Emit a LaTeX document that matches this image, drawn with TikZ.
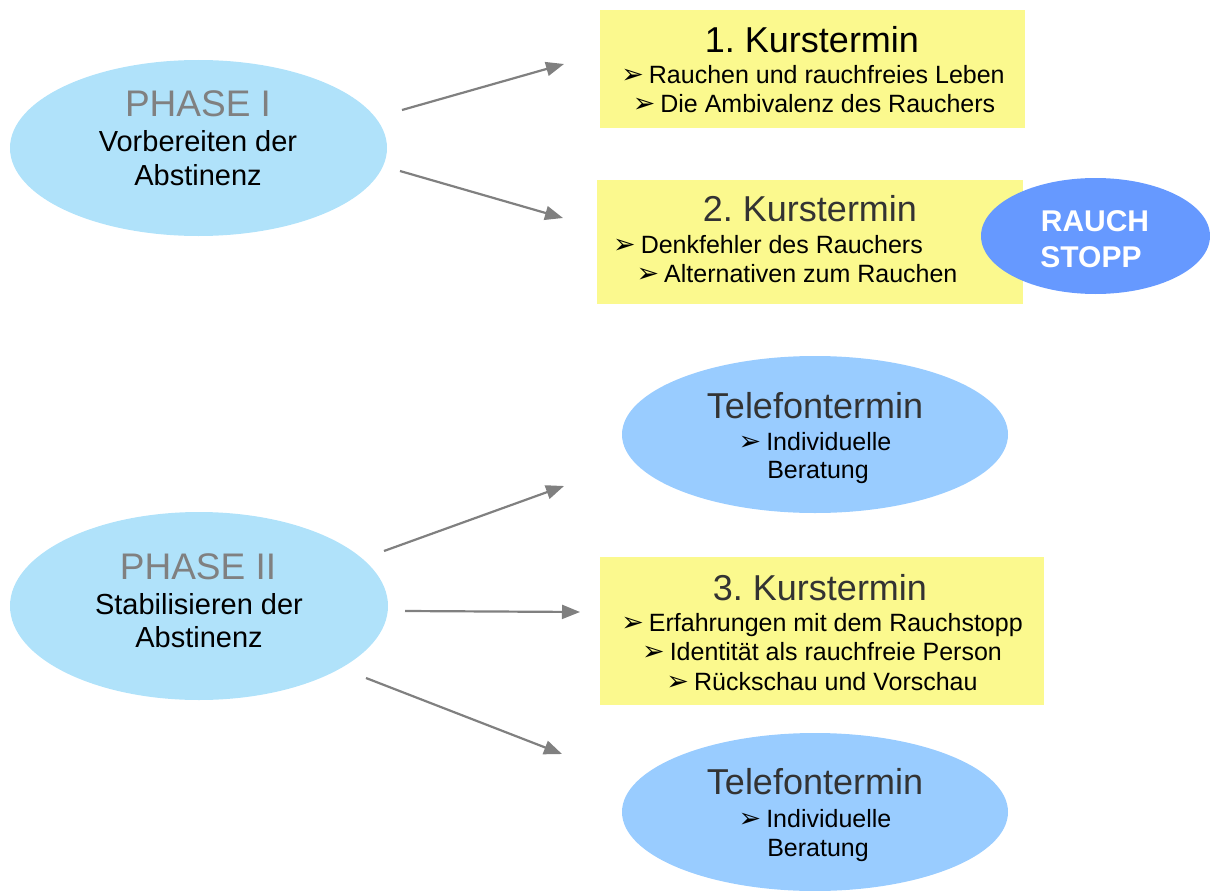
\documentclass[tikz,border=0pt]{standalone}
\usepackage{fontspec}
\setmainfont{Liberation Sans}
\newfontfamily\symfont{DejaVu Sans}
\usetikzlibrary{shapes.geometric,arrows.meta}
\definecolor{phasefill}{HTML}{B0E2FA}
\definecolor{telfill}{HTML}{99CCFF}
\definecolor{stopfill}{HTML}{6699FF}
\definecolor{boxfill}{HTML}{FBF98E}
\definecolor{arrowgray}{HTML}{808080}
\definecolor{phasegray}{HTML}{808080}
\definecolor{darktext}{HTML}{333333}
\frenchspacing
\newcommand{\bul}{{\symfont\fontsize{27}{27}\selectfont ➢}\hspace{5pt}}
\tikzset{
  kbox/.style={rectangle, fill=boxfill, draw=none, inner sep=0pt},
  phaseell/.style={ellipse, fill=phasefill, draw=none, inner sep=0pt},
  telell/.style={ellipse, fill=telfill, draw=none, inner sep=0pt},
  stopell/.style={ellipse, fill=stopfill, draw=none, inner sep=0pt},
  txt/.style={anchor=base, inner sep=0pt, font=\fontsize{25}{29}\selectfont},
  ttl/.style={anchor=base, inner sep=0pt, font=\fontsize{36}{40}\selectfont},
  phtxt/.style={anchor=base, inner sep=0pt, font=\fontsize{29}{33}\selectfont},
  phttl/.style={anchor=base, inner sep=0pt, text=phasegray, font=\fontsize{37}{41}\selectfont},
  stoptxt/.style={anchor=base, inner sep=0pt, text=white, font=\fontsize{30}{34}\selectfont\bfseries},
  conn/.style={draw=arrowgray, line width=2.2pt, -{Triangle[length=18pt,width=14pt]}}
}
\begin{document}
\begin{tikzpicture}[x=1pt,y=-1pt]
\useasboundingbox (0,0) rectangle (1210,891);
% shapes
\node[phaseell, minimum width=377pt, minimum height=176pt] (ph1) at (198.5,148) {};
\node[phaseell, minimum width=378pt, minimum height=188pt] (ph2) at (199,606) {};
\node[kbox, minimum width=425pt, minimum height=118pt] (k1) at (812.5,69) {};
\node[kbox, minimum width=426pt, minimum height=124pt] (k2) at (810,242) {};
\node[stopell, minimum width=229pt, minimum height=116pt] (stop) at (1095.5,236) {};
\node[telell, minimum width=386pt, minimum height=157pt] (t1) at (815,434.5) {};
\node[kbox, minimum width=444pt, minimum height=148pt] (k3) at (822,631) {};
\node[telell, minimum width=386pt, minimum height=158pt] (t2) at (815,812) {};
% texts
\node[phttl] (ph1a) at (198,116) {PHASE I};
\node[phtxt] (ph1b) at (198,151) {Vorbereiten der};
\node[phtxt] (ph1c) at (198,185) {Abstinenz};
\node[phttl] (ph2a) at (198,579) {PHASE II};
\node[phtxt] (ph2b) at (199,614) {Stabilisieren der};
\node[phtxt] (ph2c) at (199,647) {Abstinenz};
\node[ttl] (k1a) at (812,53) {1. Kurstermin};
\node[txt] (k1b) at (813,83) {\bul Rauchen und rauchfreies Leben};
\node[txt] (k1c) at (814,112) {\bul Die Ambivalenz des Rauchers};
\node[ttl, text=darktext] (k2a) at (810,221) {2. Kurstermin};
\node[txt] (k2b) at (768,253) {\bul Denkfehler des Rauchers};
\node[txt] (k2c) at (797,282) {\bul Alternativen zum Rauchen};
\node[stoptxt] (st1) at (1095,231) {RAUCH};
\node[stoptxt] (st2) at (1091,267) {STOPP};
\node[ttl, text=darktext] (t1a) at (815,418) {Telefontermin};
\node[txt] (t1b) at (815,450) {\bul Individuelle};
\node[txt] (t1c) at (818,478) {Beratung};
\node[ttl, text=darktext] (k3a) at (820,600) {3. Kurstermin};
\node[txt] (k3b) at (822,631) {\bul Erfahrungen mit dem Rauchstopp};
\node[txt] (k3c) at (822,660) {\bul Identität als rauchfreie Person};
\node[txt] (k3d) at (822,690) {\bul Rückschau und Vorschau};
\node[ttl, text=darktext] (t2a) at (815,794) {Telefontermin};
\node[txt] (t2b) at (815,827) {\bul Individuelle};
\node[txt] (t2c) at (818,856) {Beratung};
% connector end points
\coordinate (a1s) at (402,110); \coordinate (a1e) at (564,64);
\coordinate (a2s) at (400,171); \coordinate (a2e) at (563,218);
\coordinate (a3s) at (384,551); \coordinate (a3e) at (564,486);
\coordinate (a4s) at (405,611); \coordinate (a4e) at (580,612);
\coordinate (a5s) at (366,678); \coordinate (a5e) at (562,754);
\draw[conn] (a1s) -- (a1e);
\draw[conn] (a2s) -- (a2e);
\draw[conn] (a3s) -- (a3e);
\draw[conn] (a4s) -- (a4e);
\draw[conn] (a5s) -- (a5e);
\end{tikzpicture}
\end{document}
